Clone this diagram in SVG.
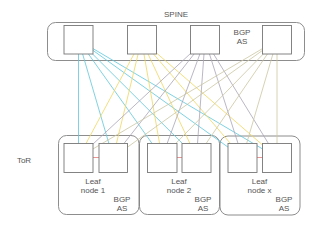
<svg xmlns="http://www.w3.org/2000/svg" width="320" height="229" viewBox="0 0 320 229">
<style>
text{font-family:"Liberation Sans",Arial,sans-serif;font-size:8px;fill:#555;text-anchor:middle}
.cont{fill:none;stroke:#808080;stroke-width:0.9}
.box{fill:#fff;stroke:#777;stroke-width:0.9}
.c1{stroke:#5ec6dc;stroke-width:0.8}
.c2{stroke:#f0d660;stroke-width:0.8}
.c3{stroke:#aaa4b8;stroke-width:0.8}
.c4{stroke:#cac6a2;stroke-width:0.8}
.peer{stroke:#e88a8a;stroke-width:0.9}
</style>
<rect width="320" height="229" fill="#fff"/>
<g id="spine">
<rect class="cont" x="47.5" y="22.5" width="257" height="38" rx="8"/>
<text x="176" y="17">SPINE</text>
<text x="242" y="35">BGP</text>
<text x="242" y="44">AS</text>
</g>
<g id="tor-label"><text x="24" y="163">ToR</text></g>
<g id="leaf1-group"><rect class="cont" x="58.5" y="135.5" width="80.5" height="79" rx="8"/>
<text x="93" y="184">Leaf</text><text x="93" y="193">node 1</text>
<text x="122" y="202">BGP</text><text x="122" y="210.5">AS</text></g>
<g id="leaf2-group"><rect class="cont" x="139.5" y="135.5" width="80" height="79" rx="8"/>
<text x="179" y="184">Leaf</text><text x="179" y="193">node 2</text>
<text x="203" y="202">BGP</text><text x="203" y="210.5">AS</text></g>
<g id="leafx-group"><rect class="cont" x="220" y="136" width="80" height="79" rx="8"/>
<text x="259.5" y="184">Leaf</text><text x="259.5" y="193">node x</text>
<text x="284" y="202">BGP</text><text x="284" y="210.5">AS</text></g>
<g id="connectors">
<g class="c1">
<line x1="78.5" y1="40" x2="78.5" y2="157.5"/><line x1="78.5" y1="40" x2="113" y2="157.5"/><line x1="78.5" y1="40" x2="162" y2="157.5"/><line x1="78.5" y1="40" x2="196.5" y2="157.5"/><line x1="78.5" y1="40" x2="242.5" y2="157.5"/><line x1="78.5" y1="40" x2="277" y2="157.5"/>
</g>
<g class="c2">
<line x1="141.5" y1="40" x2="78.5" y2="157.5"/><line x1="141.5" y1="40" x2="113" y2="157.5"/><line x1="141.5" y1="40" x2="162" y2="157.5"/><line x1="141.5" y1="40" x2="196.5" y2="157.5"/><line x1="141.5" y1="40" x2="242.5" y2="157.5"/><line x1="141.5" y1="40" x2="277" y2="157.5"/>
</g>
<g class="c3">
<line x1="205" y1="40" x2="78.5" y2="157.5"/><line x1="205" y1="40" x2="113" y2="157.5"/><line x1="205" y1="40" x2="162" y2="157.5"/><line x1="205" y1="40" x2="196.5" y2="157.5"/><line x1="205" y1="40" x2="242.5" y2="157.5"/><line x1="205" y1="40" x2="277" y2="157.5"/>
</g>
<g class="c4">
<line x1="277" y1="40" x2="78.5" y2="157.5"/><line x1="277" y1="40" x2="113" y2="157.5"/><line x1="277" y1="40" x2="162" y2="157.5"/><line x1="277" y1="40" x2="196.5" y2="157.5"/><line x1="277" y1="40" x2="242.5" y2="157.5"/><line x1="277" y1="40" x2="277" y2="157.5"/>
</g>
<line class="peer" x1="93" y1="157.5" x2="99" y2="157.5"/>
<line class="peer" x1="177" y1="157.5" x2="182" y2="157.5"/>
<line class="peer" x1="257" y1="157.5" x2="263" y2="157.5"/>
</g>
<g id="spine1"><rect class="box" x="64" y="25.5" width="29" height="28.5"/></g>
<g id="spine2"><rect class="box" x="127.5" y="25.5" width="29" height="28.5"/></g>
<g id="spine3"><rect class="box" x="190.5" y="25.5" width="29" height="28.5"/></g>
<g id="spine4"><rect class="box" x="262.5" y="25.5" width="29" height="28.5"/></g>
<g id="leaf1a"><rect class="box" x="64" y="143.5" width="29" height="29"/></g>
<g id="leaf1b"><rect class="box" x="99" y="143.5" width="28.5" height="29"/></g>
<g id="leaf2a"><rect class="box" x="147.5" y="143.5" width="29.5" height="29"/></g>
<g id="leaf2b"><rect class="box" x="182" y="143.5" width="29" height="29"/></g>
<g id="leafxa"><rect class="box" x="228" y="143.5" width="29" height="29"/></g>
<g id="leafxb"><rect class="box" x="262.5" y="143.5" width="29" height="29"/></g>
</svg>
